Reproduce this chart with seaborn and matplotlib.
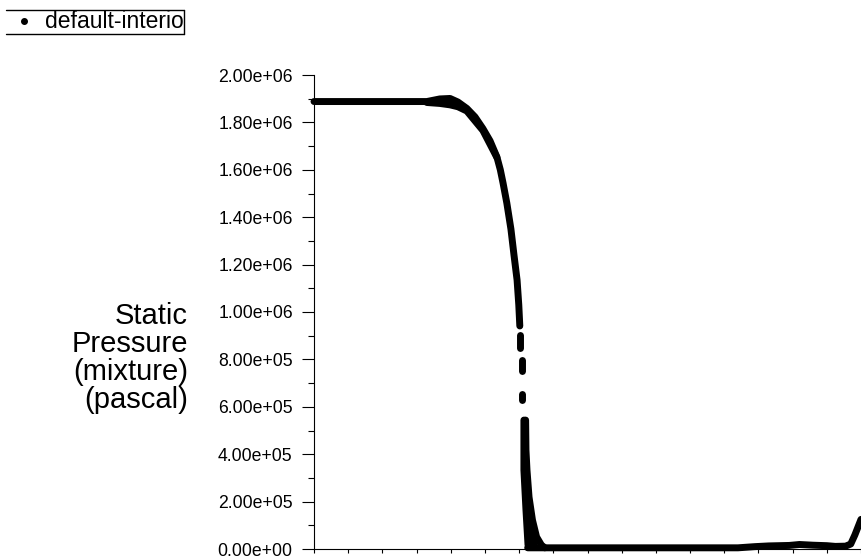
import numpy as np
import pandas as pd
import seaborn as sns
import matplotlib
matplotlib.use("Agg")
import matplotlib.pyplot as plt
from matplotlib.lines import Line2D
from matplotlib.ticker import MultipleLocator, FuncFormatter

# ---------------------------------------------------------------------------
# Static pressure along the line (position in axis units, pressure in Pa)
# ---------------------------------------------------------------------------
upstream_x = [0.0, 0.85, 3.30, 3.68, 3.98, 4.21, 4.47, 4.71, 4.94, 5.15, 5.35,
              5.45, 5.53, 5.64, 5.76, 5.85, 5.94, 5.99, 6.02]
upstream_p = [1.888e6, 1.888e6, 1.888e6, 1.899e6, 1.901e6, 1.886e6, 1.859e6,
              1.823e6, 1.774e6, 1.722e6, 1.654e6, 1.600e6, 1.544e6, 1.460e6,
              1.350e6, 1.240e6, 1.135e6, 1.030e6, 0.941e6]

bump_x = [3.30, 3.68, 3.98, 4.21, 4.47, 4.94, 5.35]
bump_p = [1.884e6, 1.880e6, 1.874e6, 1.866e6, 1.848e6, 1.766e6, 1.652e6]

# isolated groups of cells inside the pressure drop
drop1_x = [6.03, 6.03]
drop1_p = [0.903e6, 0.848e6]
drop2_x = [6.07, 6.07]
drop2_p = [0.797e6, 0.749e6]
drop3_x = [6.08, 6.08]
drop3_p = [0.656e6, 0.629e6]

# spread of cell values at the foot of the drop
foot_left_x = [6.14, 6.14, 6.20, 6.26]
foot_left_p = [0.544e6, 0.333e6, 0.165e6, 0.017e6]
foot_mid_x = [6.17, 6.29, 6.43]
foot_mid_p = [0.333e6, 0.122e6, 0.017e6]
foot_right_x = [6.19, 6.20, 6.23, 6.29, 6.39, 6.51, 6.65, 6.75]
foot_right_p = [0.544e6, 0.418e6, 0.333e6, 0.219e6, 0.122e6, 0.051e6,
                0.017e6, 0.005e6]

downstream_x = [6.25, 9.80, 12.40, 12.90, 13.30, 13.90, 14.20, 14.60, 15.00,
                15.25, 15.55, 15.70, 15.82, 16.00]
downstream_p = [5e3, 5e3, 5e3, 1.0e4, 1.3e4, 1.5e4, 1.9e4, 1.6e4, 1.4e4,
                1.1e4, 1.2e4, 2.1e4, 5.9e4, 1.25e5]

y_ticks = [0.0, 2e5, 4e5, 6e5, 8e5, 1e6, 1.2e6, 1.4e6, 1.6e6, 1.8e6, 2e6]
x_ticks = list(range(0, 17))

legend_label = "default-interio"
y_title = "Static\nPressure\n(mixture)\n(pascal)"

segments = [
    ("upstream", upstream_x, upstream_p),
    ("bump", bump_x, bump_p),
    ("drop1", drop1_x, drop1_p),
    ("drop2", drop2_x, drop2_p),
    ("drop3", drop3_x, drop3_p),
    ("foot_left", foot_left_x, foot_left_p),
    ("foot_mid", foot_mid_x, foot_mid_p),
    ("foot_right", foot_right_x, foot_right_p),
    ("downstream", downstream_x, downstream_p),
]
df = pd.concat(
    [pd.DataFrame({"position": xs, "pressure": ps, "segment": name})
     for name, xs, ps in segments],
    ignore_index=True,
)

# ---------------------------------------------------------------------------
# Figure
# ---------------------------------------------------------------------------
sns.set_style("ticks")
plt.rcParams["font.family"] = ["Liberation Sans", "DejaVu Sans"]
plt.rcParams["text.color"] = "black"
plt.rcParams["axes.labelcolor"] = "black"
plt.rcParams["xtick.color"] = "black"
plt.rcParams["ytick.color"] = "black"

W, H = 861, 559
fig = plt.figure(figsize=(W / 100, H / 100), dpi=100)
ax = fig.add_axes([314 / W, (H - 549) / H, (W - 314) / W, (549 - 75) / H])

sns.lineplot(
    data=df, x="position", y="pressure", units="segment", estimator=None,
    sort=False, color="black", linewidth=5.0, solid_capstyle="round",
    solid_joinstyle="round", ax=ax, legend=False, clip_on=False,
)

ax.set_xlim(0, 16)
ax.set_ylim(0, 2e6)
ax.set_xlabel("")
ax.set_ylabel("")

for side in ("top", "right"):
    ax.spines[side].set_visible(False)
for side in ("left", "bottom"):
    ax.spines[side].set_linewidth(0.8)
    ax.spines[side].set_color("black")

ax.set_yticks(y_ticks)
ax.yaxis.set_major_formatter(FuncFormatter(lambda v, _: f"{v:.2e}"))
ax.yaxis.set_minor_locator(MultipleLocator(1e5))
ax.set_xticks(x_ticks)
ax.tick_params(axis="y", which="major", direction="out", length=8.3,
               width=0.8, pad=7, labelsize=12.7, colors="black")
ax.tick_params(axis="y", which="minor", direction="out", length=4.2,
               width=0.8, colors="black")
ax.tick_params(axis="x", which="major", direction="out", length=3.2,
               width=0.8, labelbottom=False, colors="black")

fig.text(188 / W, 1 - 358 / H, y_title, ha="right", va="center",
         multialignment="right", fontsize=21, linespacing=1.0,
         color="black")

# legend box
bx0, bx1, by0, by1 = 6 / W, 183.5 / W, 1 - 33.5 / H, 1 - 9.5 / H
for xs, ys in (([bx0, bx1], [by1, by1]), ([bx0, bx1], [by0, by0]),
               ([bx1, bx1], [by0, by1])):
    fig.add_artist(Line2D(xs, ys, color="black", linewidth=1.0))
fig.add_artist(Line2D([23.5 / W], [1 - 21 / H], marker="o", markersize=4,
                      color="black", linestyle="none"))
fig.text(44.5 / W, 1 - 21.5 / H, legend_label, ha="left", va="center",
         fontsize=16.5, color="black")

fig.savefig("out.png", dpi=100)
